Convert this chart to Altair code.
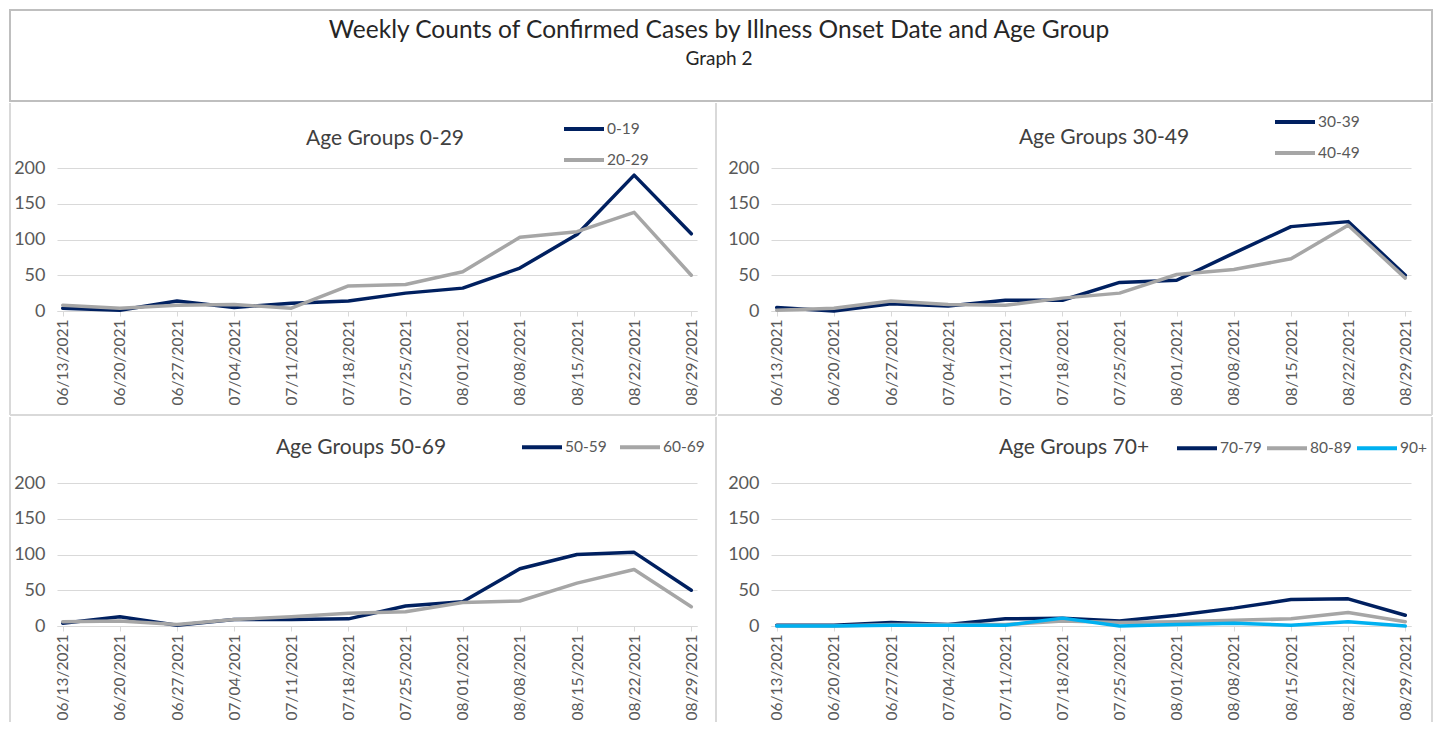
import altair as alt
import pandas as pd

dates = ["06/13/2021", "06/20/2021", "06/27/2021", "07/04/2021", "07/11/2021", "07/18/2021",
         "07/25/2021", "08/01/2021", "08/08/2021", "08/15/2021", "08/22/2021", "08/29/2021"]

age_0_19 = [4, 1, 14, 5, 11, 14, 25, 32, 60, 107, 190, 108]
age_20_29 = [8, 4, 8, 9, 4, 35, 37, 55, 103, 111, 138, 50]
age_30_39 = [5, 0, 10, 7, 15, 15, 40, 43, 81, 118, 125, 50]
age_40_49 = [1, 4, 14, 9, 8, 18, 25, 51, 58, 73, 120, 46]
age_50_59 = [4, 13, 1, 9, 9, 10, 28, 34, 80, 100, 103, 50]
age_60_69 = [6, 7, 2, 9, 13, 18, 20, 33, 35, 60, 79, 27]
age_70_79 = [1, 1, 5, 2, 10, 11, 7, 15, 25, 37, 38, 15]
age_80_89 = [0, 0, 2, 2, 2, 7, 5, 6, 8, 10, 19, 6]
age_90_plus = [0, 0, 1, 1, 1, 11, 0, 2, 4, 1, 6, 0]

main_title = "Weekly Counts of Confirmed Cases by Illness Onset Date and Age Group"
sub_title = "Graph 2"
panel_titles = ["Age Groups 0-29", "Age Groups 30-49", "Age Groups 50-69", "Age Groups 70+"]
y_ticks = [0, 50, 100, 150, 200]

NAVY = "#002060"
GRAY = "#A6A6A6"
LBLUE = "#00B0F0"
FONT = "Lato"
W, H = 640, 143


def one():
    return alt.Data(values=[{"one": 1}])


def vrule(x, y1, y2, color="#D9D9D9"):
    return alt.Chart(one()).mark_rule(color=color, strokeWidth=2).encode(
        x=alt.value(x), y=alt.value(y1), y2=alt.value(y2))


def hrule(y, x1, x2, color="#D9D9D9"):
    return alt.Chart(one()).mark_rule(color=color, strokeWidth=2).encode(
        y=alt.value(y), x=alt.value(x1), x2=alt.value(x2))


def panel(series, title, L, R, T, B, tpos, lpos, direction, colpad, side, bottom_border):
    rows = []
    for name, vals, _c in series:
        for d, v in zip(dates, vals):
            rows.append({"date": d, "count": v, "group": name})
    df = pd.DataFrame(rows)
    names = [s[0] for s in series]
    colors = [s[2] for s in series]

    lines = alt.Chart(df).mark_line(strokeWidth=3.5, strokeJoin="round", strokeCap="round").encode(
        x=alt.X("date:O", sort=dates, title=None,
                scale=alt.Scale(type="point", padding=0.1),
                axis=alt.Axis(labelAngle=-90, labelFont=FONT, labelFontSize=15.5, labelColor="#595959",
                              tickColor="#D9D9D9", tickSize=5, domainColor="#D9D9D9",
                              labelPadding=3, grid=False)),
        y=alt.Y("count:Q", title=None, scale=alt.Scale(domain=[0, 200]),
                axis=alt.Axis(values=y_ticks, labelFont=FONT, labelFontSize=18, labelColor="#595959",
                              domain=False, ticks=False, labelPadding=12,
                              gridColor="#D9D9D9", gridWidth=1)),
        color=alt.Color("group:N", sort=names,
                        scale=alt.Scale(domain=names, range=colors),
                        legend=alt.Legend(orient="none", legendX=lpos[0], legendY=lpos[1],
                                          direction=direction, title=None, symbolType="stroke",
                                          symbolSize=1600, symbolStrokeWidth=4,
                                          labelFont=FONT, labelFontSize=15.5, labelColor="#595959",
                                          labelOffset=1, rowPadding=0, columnPadding=colpad,
                                          padding=0)),
    )

    box = alt.Chart(one()).mark_rect(fill="transparent").encode(
        x=alt.value(-L), x2=alt.value(W + R), y=alt.value(-T), y2=alt.value(H + B))

    ttl = alt.Chart(one()).mark_text(font=FONT, fontSize=21, color="#404040",
                                     align="center", baseline="middle").encode(
        x=alt.value(tpos[0]), y=alt.value(tpos[1]), text=alt.value(title))

    layers = [box]
    if side == "left":
        layers.append(vrule(-L + 1, -T + 1, H + B - 1))
    layers.append(vrule(W + R - 1, -T + 1, H + B - 1))
    if bottom_border:
        layers.append(hrule(H + B - 1, -L + 1, W + R - 1))
    layers += [lines, ttl]
    return alt.layer(*layers).properties(width=W, height=H)


# panel geometry (px): left, right, top, bottom margins around each plot area
L1, R1, L2, R2 = 48, 20, 54, 22
T_TOP, B_TOP, T_BOT, B_BOT = 66, 105, 67, 97

p1 = panel([("0-19", age_0_19, NAVY), ("20-29", age_20_29, GRAY)], panel_titles[0],
           L1, R1, T_TOP, B_TOP, (328, -29), (505, -61), "vertical", 0, "left", True)
p2 = panel([("30-39", age_30_39, NAVY), ("40-49", age_40_49, GRAY)], panel_titles[1],
           L2, R2, T_TOP, B_TOP, (333, -30), (502, -68), "vertical", 0, "right", True)
p3 = panel([("50-59", age_50_59, NAVY), ("60-69", age_60_69, GRAY)], panel_titles[2],
           L1, R1, T_BOT, B_BOT, (304, -35), (463, -58), "horizontal", 5, "left", False)
p4 = panel([("70-79", age_70_79, NAVY), ("80-89", age_80_89, GRAY), ("90+", age_90_plus, LBLUE)],
           panel_titles[3], L2, R2, T_BOT, B_BOT, (303, -35), (404, -57), "horizontal", -3,
           "right", False)

# title box shares the left extent of the first panel column
TW, TH = 1424, 93
title_box = alt.Chart(one()).mark_rect(fill="transparent", stroke="#BFBFBF", strokeWidth=2).encode(
    x=alt.value(-L1 + 1), x2=alt.value(TW - L1 - 1), y=alt.value(1), y2=alt.value(TH - 1))
title_txt = alt.Chart(one()).mark_text(font=FONT, fontSize=24.5, color="#262626",
                                       align="center", baseline="middle").encode(
    x=alt.value(662), y=alt.value(22), text=alt.value(main_title))
sub_txt = alt.Chart(one()).mark_text(font=FONT, fontSize=19, color="#262626",
                                     align="center", baseline="middle").encode(
    x=alt.value(662), y=alt.value(50), text=alt.value(sub_title))
title_chart = alt.layer(title_box, title_txt, sub_txt).properties(width=TW - L1, height=TH)

# flush layout: nested concat groups count as zero-size, so row spacing includes the plot height
top = alt.hconcat(p1, p2, spacing=R1 + L2, bounds="flush").resolve_scale(color="independent")
bottom = alt.hconcat(p3, p4, spacing=R1 + L2, bounds="flush").resolve_scale(color="independent")
panels = alt.vconcat(top, bottom, spacing=H + B_TOP + T_BOT, bounds="flush").resolve_scale(
    color="independent")

chart = alt.vconcat(title_chart, panels, spacing=T_TOP, bounds="flush").resolve_scale(
    color="independent").configure_view(stroke="transparent").properties(padding=0)

chart.save("out.html", embed_options={"renderer": "svg", "actions": False})
